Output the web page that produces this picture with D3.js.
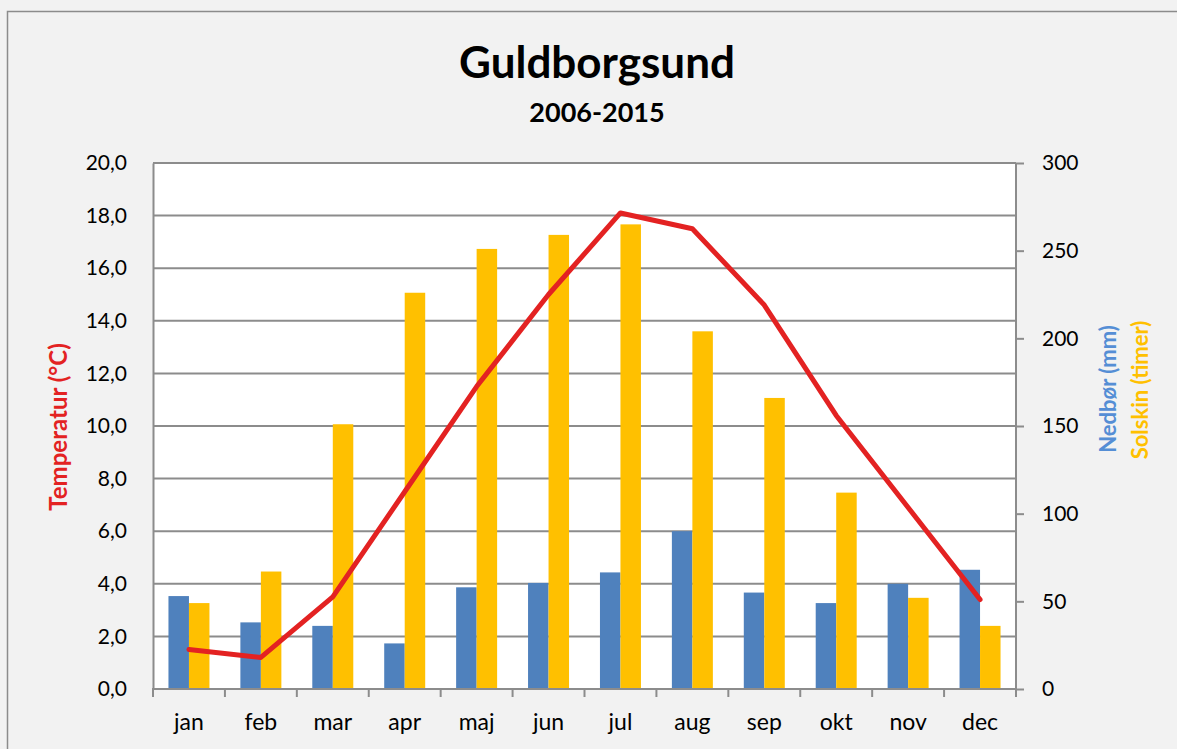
<!DOCTYPE html>
<meta charset="utf-8">
<script src="https://d3js.org/d3.v7.min.js"></script>
<style>
  body { margin: 0; background: #f2f2f2; }
  text { font-family: Lato, "Noto Sans", sans-serif; }
</style>
<div id="chart"></div>
<script>
// Data
const months = ["jan", "feb", "mar", "apr", "maj", "jun", "jul", "aug", "sep", "okt", "nov", "dec"];
const temperature = [1.5, 1.2, 3.5, 7.5, 11.5, 15.0, 18.1, 17.5, 14.6, 10.4, 6.9, 3.4];
const precipitation = [53, 38, 36, 26, 58, 60.5, 66.5, 90, 55, 49, 60, 68];
const sunshine = [49, 67, 151, 226, 251, 259, 265, 204, 166, 112, 52, 36];
const leftTicks = d3.range(0, 20.01, 2);
const rightTicks = d3.range(0, 301, 50);

const width = 1177, height = 749;
const margin = { top: 163, right: 161, bottom: 60, left: 153 };
const plotW = width - margin.left - margin.right;   // 863
const plotH = height - margin.top - margin.bottom;  // 526

const svg = d3.select("#chart")
  .append("svg")
    .attr("width", width)
    .attr("height", height);

// chart area background and border
svg.append("rect")
  .attr("x", 7.5).attr("y", 11.5)
  .attr("width", width).attr("height", height)
  .attr("fill", "#f2f2f2")
  .attr("stroke", "#8c8c8c")
  .attr("stroke-width", 1.5);

const g = svg.append("g").attr("transform", `translate(${margin.left},${margin.top})`);

g.append("rect")
  .attr("width", plotW).attr("height", plotH)
  .attr("fill", "white");

// Scales
const x0 = d3.scaleBand().domain(months).range([0, plotW]).paddingInner(0.43).paddingOuter(0.215);
const xCat = d3.scaleBand().domain(months).range([0, plotW]);
const x1 = d3.scaleBand().domain(["precip", "sun"]).range([0, x0.bandwidth()]);
const yL = d3.scaleLinear().domain([0, 20]).range([plotH, 0]);
const yR = d3.scaleLinear().domain([0, 300]).range([plotH, 0]);

// Gridlines
g.append("g")
  .selectAll("line")
  .data(leftTicks.slice(1))
  .join("line")
    .attr("x1", 0).attr("x2", plotW)
    .attr("y1", d => yL(d)).attr("y2", d => yL(d))
    .attr("stroke", "#8c8c8c")
    .attr("stroke-width", 2);

// Bars
const rows = months.map((m, i) => ({ month: m, precip: precipitation[i], sun: sunshine[i] }));
const barColor = { precip: "#4f81bd", sun: "#ffc000" };

g.append("g")
  .selectAll("g")
  .data(rows)
  .join("g")
    .attr("transform", d => `translate(${x0(d.month)},0)`)
  .selectAll("rect")
  .data(d => ["precip", "sun"].map(k => ({ key: k, value: d[k] })))
  .join("rect")
    .attr("x", d => x1(d.key))
    .attr("y", d => yR(d.value))
    .attr("width", x1.bandwidth())
    .attr("height", d => plotH - yR(d.value))
    .attr("fill", d => barColor[d.key]);

// Axes
const tickFont = 21;

// left axis
const leftAxis = g.append("g")
  .call(d3.axisLeft(yL).tickValues(leftTicks).tickSize(0).tickPadding(26)
    .tickFormat(d => d3.format(".1f")(d).replace(".", ",")));
leftAxis.select(".domain").attr("stroke", "#8c8c8c").attr("stroke-width", 2);
leftAxis.selectAll("text").attr("font-size", tickFont).attr("fill", "#000");

// right axis
const rightAxis = g.append("g")
  .attr("transform", `translate(${plotW},0)`)
  .call(d3.axisRight(yR).tickValues(rightTicks).tickSize(8).tickPadding(18));
rightAxis.select(".domain").attr("stroke", "#8c8c8c").attr("stroke-width", 2).attr("d", `M0,0V${plotH}`);
rightAxis.selectAll(".tick line").attr("stroke", "#8c8c8c").attr("stroke-width", 2);
rightAxis.selectAll("text").attr("font-size", tickFont).attr("fill", "#000");

// bottom axis: ticks at category boundaries
const bottom = g.append("g").attr("transform", `translate(0,${plotH})`);
bottom.append("line")
  .attr("x1", -1).attr("x2", plotW + 1)
  .attr("stroke", "#8c8c8c").attr("stroke-width", 2);
bottom.selectAll("line.tk")
  .data(months.concat(["end"]))
  .join("line")
    .attr("class", "tk")
    .attr("x1", (d, i) => i * xCat.step()).attr("x2", (d, i) => i * xCat.step())
    .attr("y1", 0).attr("y2", 8)
    .attr("stroke", "#8c8c8c").attr("stroke-width", 2);
bottom.selectAll("text")
  .data(months)
  .join("text")
    .attr("x", d => xCat(d) + xCat.bandwidth() / 2)
    .attr("y", 41)
    .attr("text-anchor", "middle")
    .attr("font-size", 23)
    .text(d => d);

// Temperature line
const line = d3.line()
  .x((d, i) => xCat(months[i]) + xCat.bandwidth() / 2)
  .y(d => yL(d));

g.append("path")
  .datum(temperature)
  .attr("d", line)
  .attr("fill", "none")
  .attr("stroke", "#e32222")
  .attr("stroke-width", 5)
  .attr("stroke-linejoin", "round")
  .attr("stroke-linecap", "round");

// Titles
svg.append("text")
  .attr("x", 597).attr("y", 78)
  .attr("text-anchor", "middle")
  .attr("font-size", 44).attr("font-weight", "bold")
  .text("Guldborgsund");

svg.append("text")
  .attr("x", 597).attr("y", 122)
  .attr("text-anchor", "middle")
  .attr("font-size", 27).attr("font-weight", "bold")
  .text("2006-2015");

svg.append("text")
  .attr("transform", "translate(67,427) rotate(-90)")
  .attr("text-anchor", "middle")
  .attr("font-size", 24).attr("font-weight", "bold")
  .attr("fill", "#e32222")
  .text("Temperatur (°C)");

svg.append("text")
  .attr("transform", "translate(1116,389) rotate(-90)")
  .attr("text-anchor", "middle")
  .attr("font-size", 22).attr("font-weight", "bold")
  .attr("fill", "#558ed5")
  .text("Nedbør (mm)");

svg.append("text")
  .attr("transform", "translate(1148,390) rotate(-90)")
  .attr("text-anchor", "middle")
  .attr("font-size", 22).attr("font-weight", "bold")
  .attr("fill", "#ffc000")
  .text("Solskin (timer)");
</script>
